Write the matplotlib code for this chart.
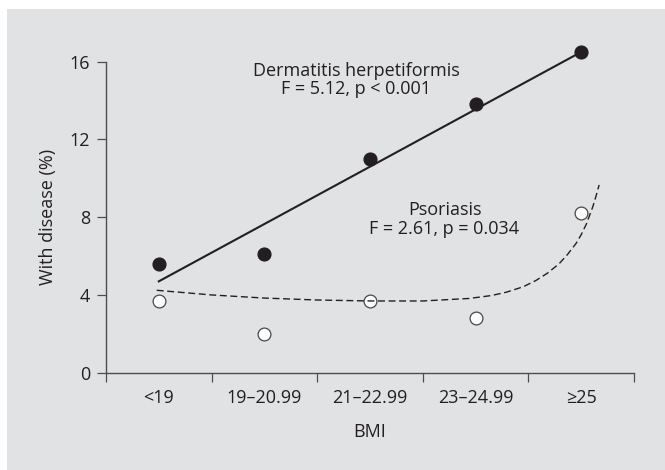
import matplotlib.pyplot as plt
import numpy as np
from matplotlib.patches import Rectangle

plt.rcParams["font.family"] = ["Open Sans", "DejaVu Sans"]

# BMI groups and % with disease
bmi_groups = ["<19", "19\u201320.99", "21\u201322.99", "23\u201324.99", "\u226525"]
dh_values = [5.6, 6.1, 11.0, 13.8, 16.5]
psoriasis_values = [3.7, 2.0, 3.7, 2.8, 8.2]

# dashed psoriasis trend, sampled from the figure (group index, %)
trend_idx = [-0.02, 0.5, 1.0, 1.5, 2.0, 2.5, 2.94, 3.15, 3.29, 3.45, 3.57, 3.68,
             3.79, 3.87, 3.95, 4.0, 4.05, 4.11, 4.14, 4.17]
trend_val = [4.24, 4.0, 3.84, 3.74, 3.69, 3.69, 3.82, 3.97, 4.14, 4.42, 4.74, 5.12,
             5.6, 6.08, 6.64, 7.1, 7.66, 8.54, 9.08, 9.66]

ink = "#231f20"
axis_grey = "#4d4d4d"
W, H = 665, 470
fs = 13

fig = plt.figure(figsize=(W / 100, H / 100), dpi=100)
fig.patches.append(Rectangle((7 / W, 0), 1 - 7 / W, 1 - 9 / H,
                             transform=fig.transFigure, facecolor="#e1e2e4",
                             edgecolor="none", zorder=-10))
ax = fig.add_axes([106 / W, 1 - 372.7 / H, (634 - 106) / W, (372.7 - 61.7) / H])
ax.set_facecolor("none")

x = np.arange(len(bmi_groups)) + 0.5

# linear fit for dermatitis herpetiformis
slope, intercept = np.polyfit(x, dh_values, 1)
ax.plot(x[[0, -1]], slope * x[[0, -1]] + intercept, color=ink, lw=1.5, zorder=2,
        clip_on=False)
ax.plot(x, dh_values, "o", ms=9.2, mfc=ink, mec=ink, zorder=3, clip_on=False)

ax.plot(x, psoriasis_values, "o", ms=9.2, mfc="white", mec="#484848", mew=0.9, zorder=3)
ax.plot(np.array(trend_idx) + 0.5, trend_val, color=ink, lw=1.0,
        dashes=(5, 2.6), zorder=4)


def label(px, py, s):
    # place text by pixel position (origin top-left)
    fig.text(px / W, 1 - py / H, s, fontsize=fs, color=ink, ha="center", va="center")


label(356, 70.5, "Dermatitis herpetiformis")
label(356, 88.5, "F = 5.12, p < 0.001")
label(444.5, 210, "Psoriasis")
label(444.5, 228.5, "F = 2.61, p = 0.034")

ax.set_xlim(0, 5)
ax.set_ylim(0, 16)
ax.set_yticks([0, 4, 8, 12, 16])
ax.set_xticks(np.arange(6))
ax.set_xticklabels([])
ax.set_xticks(x, minor=True)
ax.set_xticklabels(bmi_groups, minor=True)
ax.tick_params(axis="x", which="minor", length=0, pad=11.5)
ax.tick_params(axis="both", which="major", length=6.5, width=0.9, color=axis_grey,
               labelsize=fs, labelcolor=ink)
ax.tick_params(axis="x", which="minor", labelsize=fs, labelcolor=ink)
ax.tick_params(axis="y", pad=5)

for side in ["top", "right"]:
    ax.spines[side].set_visible(False)
for side in ["left", "bottom"]:
    ax.spines[side].set_color(axis_grey)
    ax.spines[side].set_linewidth(1.0)

ax.set_xlabel("BMI", fontsize=fs, color=ink, labelpad=12)
ax.set_ylabel("With disease (%)", fontsize=fs, color=ink, labelpad=9)

fig.savefig("out.png", dpi=100)
